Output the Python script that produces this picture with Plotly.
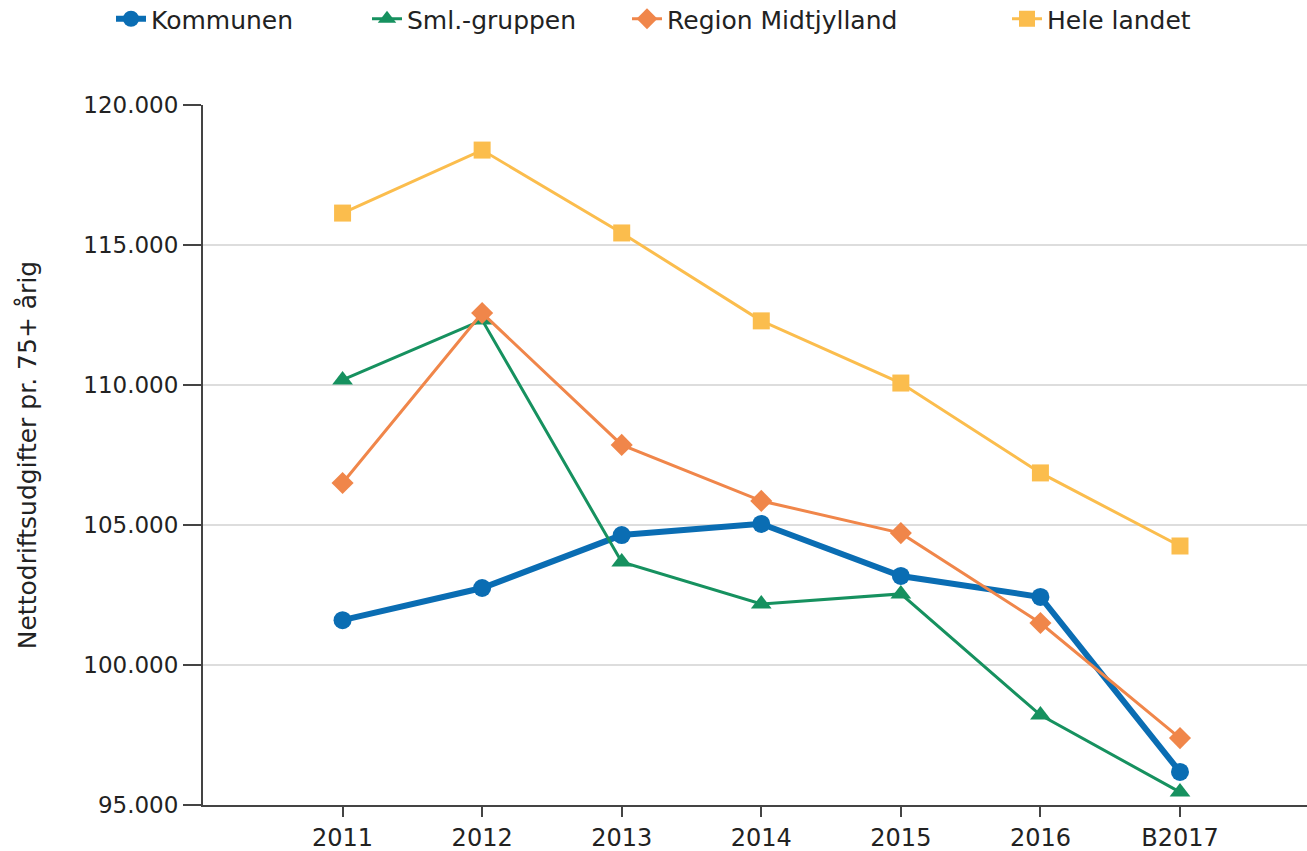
import plotly.graph_objects as go

years = ["2011", "2012", "2013", "2014", "2015", "2016", "B2017"]
kommunen = [101600, 102750, 104640, 105040, 103180, 102430, 96180]
sml_gruppen = [110180, 112320, 103680, 102180, 102540, 98210, 95460]
region_midtjylland = [106500, 112570, 107860, 105860, 104710, 101500, 97390]
hele_landet = [116140, 118390, 115430, 112290, 110070, 106860, 104250]

y_ticks = [95000, 100000, 105000, 110000, 115000, 120000]
y_tick_labels = ["95.000", "100.000", "105.000", "110.000", "115.000", "120.000"]

FONT = "DejaVu Sans"
TXT = "#222222"

series = [
    ("Kommunen", kommunen, "#0a6db3", 6, "circle", 18, "legend"),
    ("Sml.-gruppen", sml_gruppen, "#16915f", 3, "triangle-up", 18, "legend2"),
    ("Region Midtjylland", region_midtjylland, "#f0864a", 3, "diamond", 17, "legend3"),
    ("Hele landet", hele_landet, "#fbbd4d", 3, "square", 17, "legend4"),
]

fig = go.Figure()
for name, vals, color, lw, sym, ms, lg in series:
    fig.add_trace(go.Scatter(
        x=years, y=vals, name=name, mode="lines+markers",
        line=dict(color=color, width=lw),
        marker=dict(symbol=sym, size=ms, color=color),
        legend=lg,
    ))

W, H = 1307, 851
L, R, T, B = 203, 0, 105, 46
pw = W - L - R

def lx(px):
    return (px - L) / pw

legend_text_x = [152, 408, 668, 1048]
common_leg = dict(orientation="h", yanchor="middle", y=(H - 19 - B) / (H - T - B),
                  xanchor="left", bgcolor="rgba(0,0,0,0)",
                  font=dict(family=FONT, size=25, color=TXT))

layout_legs = {}
for i, tx in enumerate(legend_text_x):
    key = "legend" if i == 0 else f"legend{i+1}"
    layout_legs[key] = dict(common_leg, x=lx(tx - 41))

fig.update_layout(
    width=W, height=H,
    margin=dict(l=L, r=R, t=T, b=B, autoexpand=False),
    paper_bgcolor="white", plot_bgcolor="white",
    font=dict(family=FONT, size=22, color=TXT),
    showlegend=True,
    xaxis=dict(
        type="category", range=[-1, 6.91],
        showgrid=False, showline=True, linecolor="#444444", linewidth=2,
        ticks="outside", ticklen=10, tickwidth=2, tickcolor="#444444",
        tickfont=dict(family=FONT, size=24, color=TXT),
        zeroline=False,
    ),
    yaxis=dict(
        range=[95000, 120000], tickvals=y_ticks, ticktext=y_tick_labels,
        showgrid=True, gridcolor="#dddddd", gridwidth=2,
        showline=True, linecolor="#444444", linewidth=2,
        ticks="outside", ticklen=18, tickwidth=2, tickcolor="#444444",
        tickfont=dict(family=FONT, size=23, color=TXT),
        zeroline=False,
        title=dict(text="Nettodriftsudgifter pr. 75+ årig",
                   font=dict(family=FONT, size=25, color=TXT), standoff=40),
    ),
    **layout_legs,
)

fig.write_html("out.html", config={"displayModeBar": False},
               post_script="document.body.style.margin='0';document.body.style.overflow='hidden';")
